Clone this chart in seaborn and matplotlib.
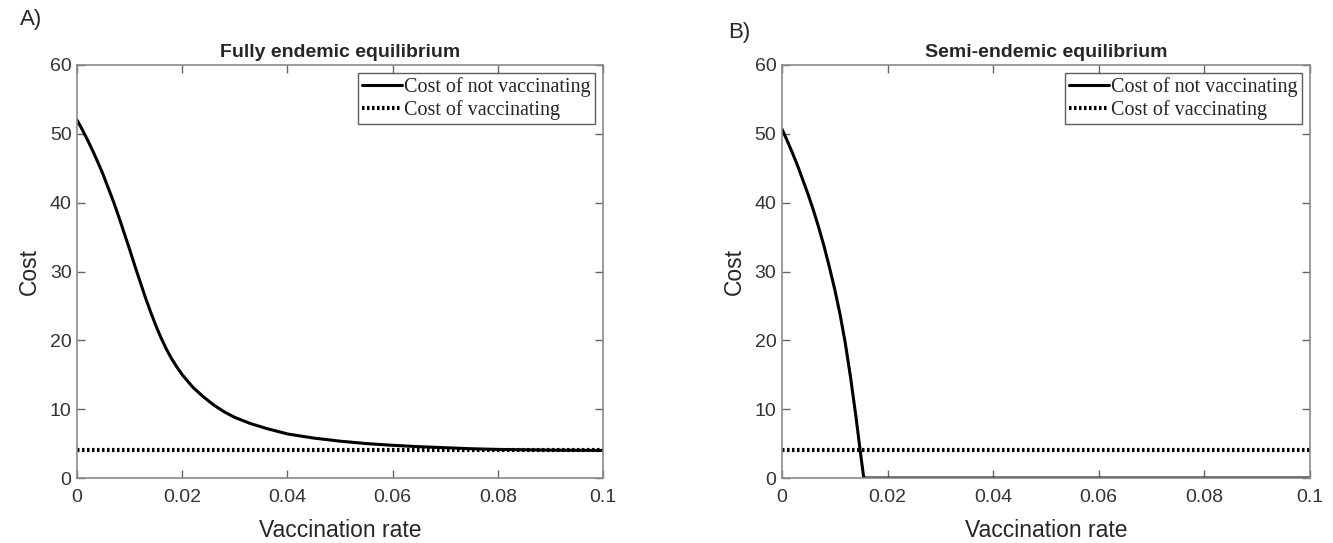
import numpy as np
import pandas as pd
import matplotlib
matplotlib.use('Agg')
import matplotlib.pyplot as plt
import seaborn as sns

# panel A: fully endemic equilibrium
rate_a = [0.0, 0.001, 0.002, 0.003, 0.004, 0.005, 0.006, 0.007, 0.008, 0.009,
          0.010, 0.011, 0.012, 0.013, 0.014, 0.015, 0.016, 0.017, 0.018,
          0.019, 0.020, 0.022, 0.024, 0.026, 0.028, 0.030, 0.033, 0.036,
          0.040, 0.045, 0.050, 0.055, 0.060, 0.065, 0.070, 0.075, 0.080,
          0.090, 0.100]
cost_not_a = [52.0, 50.6, 49.1, 47.5, 45.8, 44.0, 42.0, 40.0, 37.8, 35.5,
              33.2, 30.8, 28.5, 26.2, 24.1, 22.1, 20.3, 18.7, 17.3,
              16.1, 15.0, 13.2, 11.8, 10.6, 9.6, 8.8, 7.9, 7.2,
              6.4, 5.8, 5.35, 5.0, 4.75, 4.55, 4.4, 4.25, 4.15,
              4.05, 4.0]

# panel B: semi-endemic equilibrium
rate_b = [0.0, 0.001, 0.002, 0.003, 0.004, 0.005, 0.006, 0.007, 0.008,
          0.009, 0.010, 0.011, 0.012, 0.013, 0.014, 0.015, 0.0155, 0.1]
cost_not_b = [50.7, 49.0, 47.2, 45.3, 43.2, 41.1, 38.8, 36.3, 33.6,
              30.6, 27.4, 23.8, 19.6, 14.6, 9.0, 2.9, 0.0, 0.0]

# cost of vaccinating is flat
rate_vac = [0.0, 0.1]
cost_vac = [4.0, 4.0]

panels = ['A)', 'B)']
titles = ['Fully endemic equilibrium', 'Semi-endemic equilibrium']
xticks = [0, 0.02, 0.04, 0.06, 0.08, 0.1]
xticklabels = ['0', '0.02', '0.04', '0.06', '0.08', '0.1']
yticks = [0, 10, 20, 30, 40, 50, 60]

sns.set_style('ticks')
plt.rcParams['font.family'] = ['Liberation Sans', 'DejaVu Sans']

fig = plt.figure(figsize=(13.33, 5.43), dpi=100)
ax_a = fig.add_axes([0.0578, 0.1197, 0.3946, 0.7606])
ax_b = fig.add_axes([0.5866, 0.1197, 0.3961, 0.7606])

data = [(rate_a, cost_not_a), (rate_b, cost_not_b)]
spine_col = '#8a8a8a'

for ax, (xs, ys), title in zip([ax_a, ax_b], data, titles):
    df = pd.DataFrame({'rate': xs, 'cost': ys})
    dv = pd.DataFrame({'rate': rate_vac, 'cost': cost_vac})
    sns.lineplot(data=df, x='rate', y='cost', ax=ax, color='black',
                 linewidth=2.2, label='Cost of not vaccinating', sort=False)
    sns.lineplot(data=dv, x='rate', y='cost', ax=ax, color='black',
                 linewidth=3.0, linestyle=(0, (0.6, 0.6)),
                 label='Cost of vaccinating')
    ax.set_xlim(0, 0.1)
    ax.set_ylim(0, 60)
    ax.set_xticks(xticks)
    ax.set_xticklabels(xticklabels)
    ax.set_yticks(yticks)
    ax.tick_params(direction='in', top=True, right=True, length=6,
                   width=1, color='#666666', labelsize=14,
                   labelcolor='#333333', pad=8)
    ax.tick_params(axis='y', pad=4)
    for sp in ax.spines.values():
        sp.set_visible(True)
        sp.set_color(spine_col)
        sp.set_linewidth(1.2)
    ax.set_title(title, fontsize=14, fontweight='semibold', pad=6)
    ax.set_xlabel('Vaccination rate', fontsize=16.5, labelpad=9)
    ax.set_ylabel('Cost', fontsize=16.5, labelpad=6)
    leg = ax.legend(loc='upper right', frameon=True, fancybox=False,
                    prop={'family': 'Liberation Serif', 'size': 14.5},
                    handlelength=2.0, handletextpad=0.1, borderpad=0.2,
                    labelspacing=0.15, borderaxespad=0.4)
    leg.get_frame().set_edgecolor('#333333')
    leg.get_frame().set_linewidth(1.0)

fig.text(0.015, 0.965, 'A)', fontsize=16, va='center', ha='left')
fig.text(0.546, 0.94, 'B)', fontsize=16, va='center', ha='left')

fig.savefig('out.png', dpi=100, facecolor='white')
